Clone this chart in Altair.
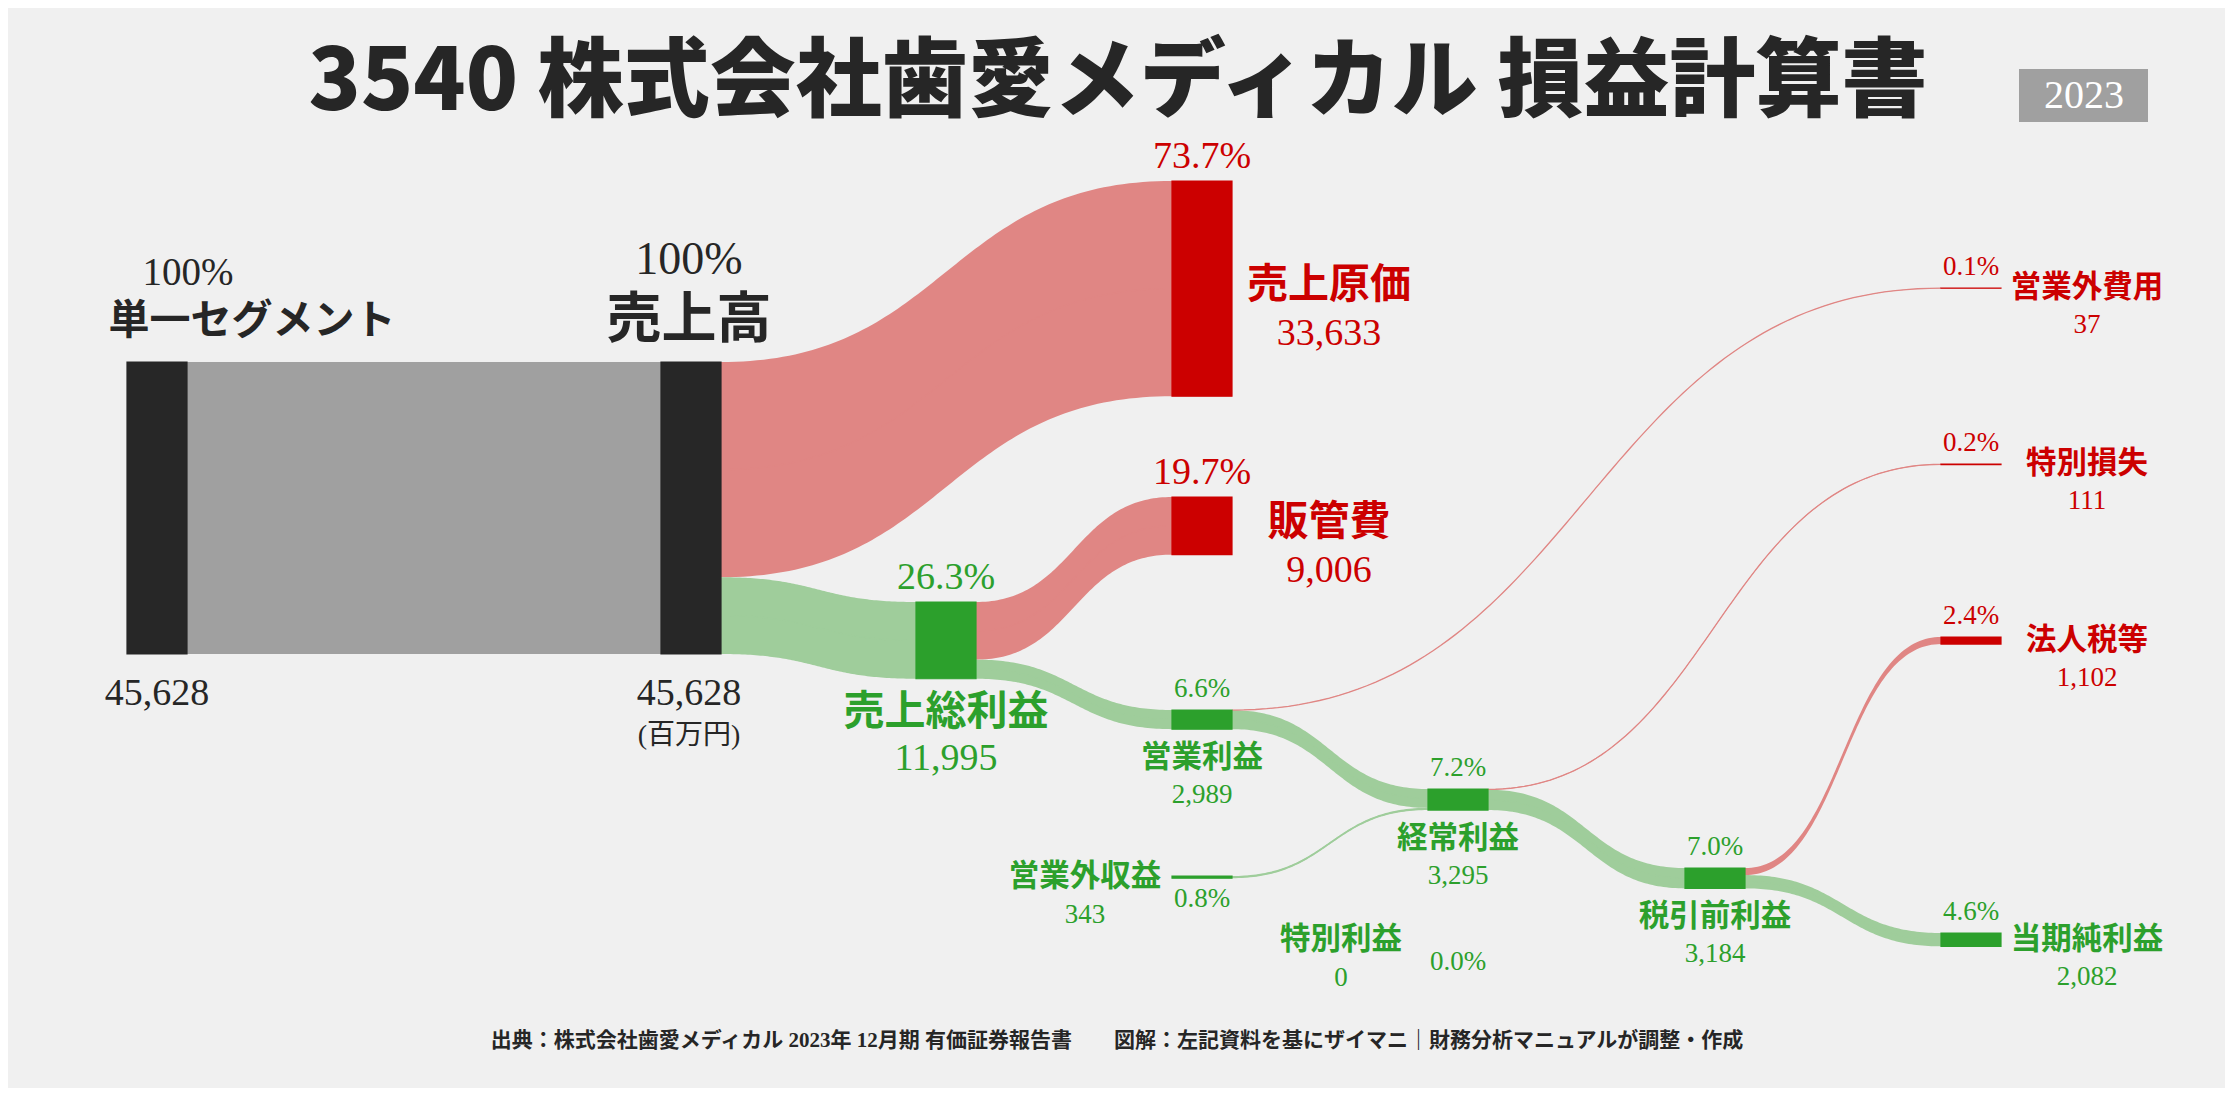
import altair as alt
import numpy as np
import pandas as pd

# ---------------- data ----------------
title_text = "3540 株式会社歯愛メディカル 損益計算書"
year_text = "2023"
unit_text = "(百万円)"
footer_text = "出典：株式会社歯愛メディカル 2023年 12月期 有価証券報告書　　図解：左記資料を基にザイマニ｜財務分析マニュアルが調整・作成"

node_names = ["単一セグメント", "売上高", "売上総利益", "売上原価", "販管費",
              "営業利益", "営業外収益", "経常利益", "特別利益", "税引前利益",
              "営業外費用", "特別損失", "法人税等", "当期純利益"]
node_values = [45628, 45628, 11995, 33633, 9006,
               2989, 343, 3295, 0, 3184,
               37, 111, 1102, 2082]
node_kinds = ["base", "base", "profit", "cost", "cost",
              "profit", "profit", "profit", "profit", "profit",
              "cost", "cost", "cost", "profit"]

link_sources = ["単一セグメント", "売上高", "売上高", "売上総利益", "売上総利益",
                "営業利益", "営業利益", "営業外収益", "経常利益", "経常利益",
                "税引前利益", "税引前利益"]
link_targets = ["売上高", "売上原価", "売上総利益", "販管費", "営業利益",
                "営業外費用", "経常利益", "経常利益", "特別損失", "税引前利益",
                "法人税等", "当期純利益"]
link_values = [45628, 33633, 11995, 9006, 2989, 37, 2952, 343, 111, 3184, 1102, 2082]

# ---------------- layout (canvas pixel space) ----------------
W, H = 2217, 1080
col_left = [127, 661, 916, 1172, 1428, 1685, 1941]
node_w = 60
node_col = [0, 1, 2, 3, 3, 3, 3, 4, 4, 5, 6, 6, 6, 6]
node_top = [362, 362, 602, 181, 497, 710, 876, 789, 940, 868, 288, 464, 637, 933]
label_style = ["seg", "rev", "belowL", "right", "right", "below", "left", "below",
               "left", "below", "side", "side", "side", "side"]
k = 292 / node_values[0]

node_color = {"base": "#272727", "profit": "#2ca02c", "cost": "#cc0000"}
link_color = {"base": "#a0a0a0", "profit": "#9fcd9b", "cost": "#e08684"}
text_color = {"base": "#262626", "profit": "#2ca02c", "cost": "#cc0000"}

idx = {n: i for i, n in enumerate(node_names)}
revenue = node_values[1]

# nodes
node_rows = []
for i, n in enumerate(node_names):
    left = col_left[node_col[i]]
    node_rows.append(dict(name=n, x=left, x2=left + node_w, y=node_top[i],
                          y2=node_top[i] + node_values[i] * k,
                          color=node_color[node_kinds[i]], value=node_values[i]))
nodes_df = pd.DataFrame(node_rows)
nodes_df = nodes_df[nodes_df.value > 0]

# links (plotly-style cubic bezier with curvature 0.5)
out_off = [0.0] * len(node_names)
in_off = [0.0] * len(node_names)
area_rows, line_rows = [], []
t = np.linspace(0, 1, 90)
fx = 1.5 * t - 1.5 * t ** 2 + t ** 3
fy = 3 * t ** 2 - 2 * t ** 3
for j, (s, d, v) in enumerate(zip(link_sources, link_targets, link_values)):
    si, di = idx[s], idx[d]
    h = v * k
    x0 = col_left[node_col[si]] + node_w
    x1 = col_left[node_col[di]]
    y0 = node_top[si] + out_off[si]
    y1 = node_top[di] + in_off[di]
    out_off[si] += h
    in_off[di] += h
    c = link_color[node_kinds[di]]
    xs_ = x0 + (x1 - x0) * fx
    ys_ = y0 + (y1 - y0) * fy
    for a, b in zip(xs_, ys_):
        area_rows.append(dict(link=j, x=a, y=b, y2=b + h, color=c))
        line_rows.append(dict(link=j, x=a, y=b + h / 2, color=c))
areas_df = pd.DataFrame(area_rows)
lines_df = pd.DataFrame(line_rows)

# labels
rows = []


def add(x, y, text, color, size, group):
    rows.append(dict(x=x, y=y, text=text, color=color, size=size, group=group))


for i, n in enumerate(node_names):
    v = node_values[i]
    left = col_left[node_col[i]]
    right = left + node_w
    cx = left + node_w / 2
    top = node_top[i]
    bot = top + v * k
    cy = (top + bot) / 2
    tc = text_color[node_kinds[i]]
    p = v / revenue * 100
    pct = "100%" if round(p, 1) == 100 else f"{p:.1f}%"
    val = f"{v:,}"
    st = label_style[i]
    if st == "seg":
        add(cx + 31, top - 89, pct, tc, 39, "num")
        add(cx + 95, top - 40, n, tc, 41, "name")
        add(cx, bot + 40, val, tc, 38, "num")
    elif st == "rev":
        add(cx - 2, top - 102, pct, tc, 46, "num")
        add(cx - 2, top - 42, n, tc, 55, "name")
        add(cx - 2, bot + 40, val, tc, 38, "num")
        add(cx - 2, bot + 82, unit_text, tc, 28, "num")
    elif st == "right":
        add(cx, top - 24, pct, tc, 38, "num")
        add(right + 97, cy - 3, n, tc, 41, "name")
        add(right + 97, cy + 45, val, tc, 38, "num")
    elif st == "belowL":
        add(cx, top - 24, pct, tc, 38, "num")
        add(cx, bot + 34, n, tc, 41, "name")
        add(cx, bot + 80, val, tc, 38, "num")
    elif st == "below":
        add(cx, top - 21, pct, tc, 27, "num")
        add(cx, bot + 29, n, tc, 30.5, "name")
        add(cx, bot + 66, val, tc, 27, "num")
    elif st == "left":
        add(left - 87, cy, n, tc, 30.5, "name")
        add(left - 87, cy + 38, val, tc, 27, "num")
        add(cx, cy + 22, pct, tc, 27, "num")
    elif st == "side":
        add(cx, top - 21, pct, tc, 27, "num")
        add(right + 86, cy, n, tc, 30.5, "name")
        add(right + 86, cy + 37, val, tc, 27, "num")

add(1118, 84, title_text, "#262626", 86, "title")
add(2084, 96, year_text, "#ffffff", 40, "num")
add(1117, 1041, footer_text, "#262626", 21, "foot")
labels_df = pd.DataFrame(rows)

badge_df = pd.DataFrame([dict(x=2019, x2=2148, y=69, y2=122, color="#a0a0a0")])

# ---------------- chart ----------------
xsc = alt.Scale(domain=[8, 8 + W], nice=False, zero=False)
ysc = alt.Scale(domain=[8, 8 + H], nice=False, zero=False, reverse=True)

X = alt.X("x:Q", scale=xsc, axis=None)
Y = alt.Y("y:Q", scale=ysc, axis=None)

link_area = alt.Chart(areas_df).mark_area(interpolate="linear").encode(
    x=X, y=Y, y2="y2:Q", detail="link:N", color=alt.Color("color:N", scale=None))
link_line = alt.Chart(lines_df).mark_line(strokeWidth=1.3).encode(
    x=X, y=Y, detail="link:N", color=alt.Color("color:N", scale=None))
node_rect = alt.Chart(nodes_df).mark_rect(strokeWidth=1.2).encode(
    x=X, x2="x2:Q", y=Y, y2="y2:Q",
    fill=alt.Fill("color:N", scale=None), stroke=alt.Stroke("color:N", scale=None))
badge = alt.Chart(badge_df).mark_rect().encode(
    x=X, x2="x2:Q", y=Y, y2="y2:Q", fill=alt.Fill("color:N", scale=None))


def text_layer(group, font, weight):
    df = labels_df[labels_df.group == group]
    return alt.Chart(df).mark_text(font=font, fontWeight=weight, align="center",
                                   baseline="middle").encode(
        x=X, y=Y, text="text:N",
        color=alt.Color("color:N", scale=None),
        size=alt.Size("size:Q", scale=None))


serif = "Liberation Serif, Noto Sans CJK JP"
sans = "Noto Sans CJK JP"

chart = alt.layer(
    link_area, link_line, node_rect, badge,
    text_layer("num", serif, "normal"),
    text_layer("name", sans, "bold"),
    text_layer("title", sans, 900),
    text_layer("foot", serif, "bold"),
).properties(
    width=W, height=H, background="#f0f0f0", padding=0,
    autosize=alt.AutoSizeParams(type="none"),
).configure_view(stroke=None)

chart.save("out.html", embed_options={"renderer": "svg", "actions": False})
